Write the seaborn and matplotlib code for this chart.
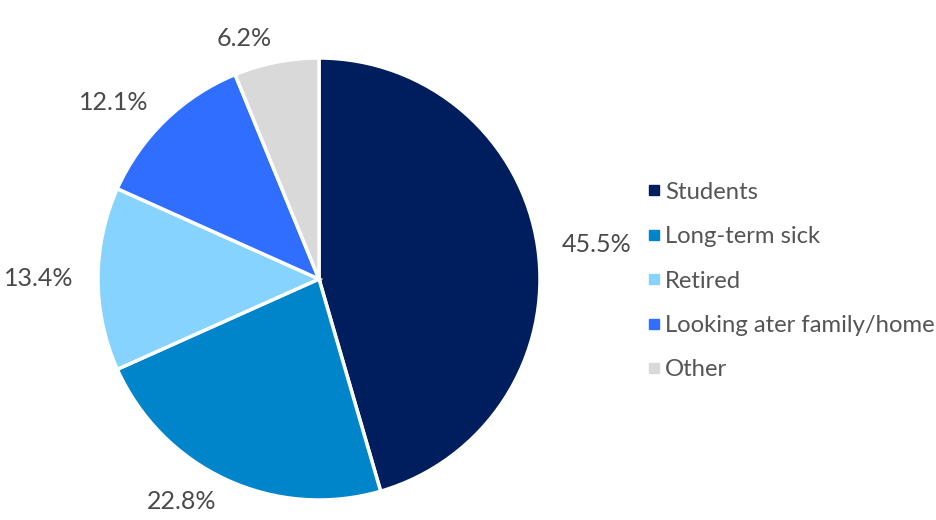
import matplotlib
matplotlib.use("Agg")
import matplotlib.pyplot as plt
from matplotlib.lines import Line2D
import seaborn as sns

categories = ["Students", "Long-term sick", "Retired", "Looking ater family/home", "Other"]
values = [45.5, 22.8, 13.4, 12.1, 6.2]
colors = ["#001E5E", "#0085CA", "#86D3FF", "#306EFF", "#D9D9D9"]

sns.set_theme(style="white")
plt.rcParams["font.family"] = ["Lato", "DejaVu Sans"]

W, H = 936, 520
fig = plt.figure(figsize=(W / 100, H / 100), dpi=100)
cx, cy, r = 319, 279, 221
ax = fig.add_axes([(cx - r) / W, (H - cy - r) / H, 2 * r / W, 2 * r / H])

pct_labels = [f"{v:.1f}%" for v in values]
wedges, texts = ax.pie(
    values, colors=colors, startangle=90, counterclock=False, radius=1,
    labels=pct_labels, labeldistance=1.11,
    wedgeprops=dict(edgecolor="white", linewidth=2.5),
    textprops=dict(fontsize=18, color="#4a4a4a"),
)
ax.set_xlim(-1, 1)
ax.set_ylim(-1, 1)
ax.set_aspect("equal")
ax.axis("off")

handles = [Line2D([0], [0], marker="s", linestyle="none", markersize=7,
                  markerfacecolor=c, markeredgecolor=c) for c in colors]
leg = fig.legend(handles, categories, loc="center left",
                 bbox_to_anchor=(647 / W, 1 - 281 / H), frameon=False,
                 fontsize=17.2, handlelength=0.55, handletextpad=0.2,
                 labelspacing=0.98, borderaxespad=0, borderpad=0)
for t in leg.get_texts():
    t.set_color("#555555")

fig.savefig("out.png", dpi=100)
